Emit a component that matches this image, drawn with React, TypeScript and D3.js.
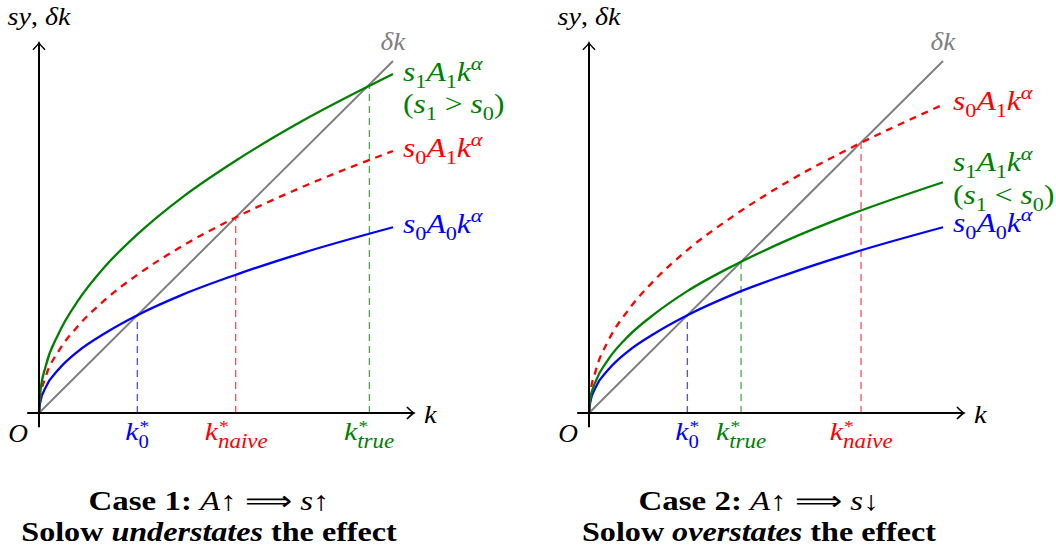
import * as d3 from 'd3'

// Values (units of k and of sy, δk)
const kGrid = [0, 0.02, 0.1, 0.3, 0.6, 1, 1.5, 2.2, 3, 4, 5.4]
const deltaLine = [0, 5.4]

// Case 1: A up => s up
const case1Base = [0, 0.17, 0.39, 0.67, 0.95, 1.22, 1.5, 1.82, 2.12, 2.45, 2.85]
const case1Naive = [0, 0.24, 0.55, 0.95, 1.34, 1.73, 2.12, 2.57, 3.0, 3.46, 4.02]
const case1True = [0, 0.32, 0.71, 1.22, 1.73, 2.24, 2.74, 3.32, 3.87, 4.47, 5.2]
const case1Stars = [1.5, 3.0, 5.04]

// Case 2: A up => s down
const case2Base = [0, 0.17, 0.39, 0.67, 0.95, 1.22, 1.5, 1.82, 2.12, 2.45, 2.85]
const case2Naive = [0, 0.29, 0.64, 1.12, 1.58, 2.04, 2.5, 3.02, 3.53, 4.07, 4.73]
const case2True = [0, 0.22, 0.48, 0.83, 1.18, 1.52, 1.87, 2.26, 2.64, 3.05, 3.54]
const case2Stars = [1.5, 2.32, 4.15]

const SERIF = '"Liberation Serif", serif'
const BLUE = '#0000ff'
const RED = '#ff0000'
const GREEN = '#008000'
const GRAY = '#808080'

const x = d3.scaleLinear().domain([0, 5.4]).range([0, 354])
const y = d3.scaleLinear().domain([0, 5.4]).range([0, -352])

const line = d3.line<number>()
  .x((_, i) => x(kGrid[i]))
  .y(d => y(d))
  .curve(d3.curveMonotoneX)

type Seg = { t: string; pos?: 'sub' | 'sup'; up?: boolean }

// tiny parser for strings like "s_0A_1k^α" or "(s_1 > s_0)"
function parse(src: string): Seg[] {
  const out: Seg[] = []
  let i = 0
  while (i < src.length) {
    const c = src[i]
    if (c === '_' || c === '^') {
      const pos = c === '_' ? 'sub' : 'sup'
      let t = src[i + 1]
      i += 2
      if (t === '{') {
        const end = src.indexOf('}', i)
        t = src.slice(i, end)
        i = end + 1
      }
      out.push({ t, pos, up: /^[0-9*]+$/.test(t) })
    } else {
      out.push({ t: c, up: /[0-9()<>, ]/.test(c) })
      i++
    }
  }
  return out
}

// math-ish text: italic letters, upright digits, sub/superscripts; widened with a horizontal scale
function MathText({ tx, ty, src, fill, size = 27, sx = 1.17, anchor = 'start' }:
  { tx: number; ty: number; src: string; fill: string; size?: number; sx?: number; anchor?: string }) {
  let cur = 0
  const segs = parse(src)
  return (
    <g transform={`translate(${tx},${ty}) scale(${sx},1)`}>
      <text x={0} y={0} fill={fill} fontSize={size} fontFamily={SERIF} textAnchor={anchor}>
        {segs.map((s, i) => {
          const target = s.pos === 'sub' ? Math.round(size * 0.26) : s.pos === 'sup' ? -Math.round(size * 0.4) : 0
          const dy = target - cur
          cur = target
          return (
            <tspan key={i} dy={dy} fontSize={s.pos ? 19 : size}
              fontStyle={s.up ? 'normal' : 'italic'}>{s.t}</tspan>
          )
        })}
      </text>
    </g>
  )
}

// k with a stacked * superscript and subscript
const subWidth: Record<string, number> = { '0': 9, naive: 43, true: 32 }

function KStar({ cx, ty, sub, fill }: { cx: number; ty: number; sub: string; fill: string }) {
  const kw = 11.5
  const x0 = -(kw + subWidth[sub]) / 2
  const up = sub === '0'
  return (
    <g transform={`translate(${cx},${ty}) scale(1.15,1)`} fill={fill} fontFamily={SERIF}>
      <text x={x0} y={0} fontSize={26} fontStyle="italic">k</text>
      <text x={x0 + kw + 1} y={-8} fontSize={17}>*</text>
      <text x={x0 + kw} y={8} fontSize={up ? 18 : 20} fontStyle={up ? 'normal' : 'italic'}>{sub}</text>
    </g>
  )
}

interface CurveDef { ys: number[]; color: string; dashed?: boolean; labels: string[]; dys: number[] }

interface PanelDef {
  ox: number
  curves: CurveDef[]
  stars: number[]
  starColors: string[]
  starSubs: string[]
  title: string
  verb: string
  arrow: string
}

const panels: PanelDef[] = [
  {
    ox: 39,
    curves: [
      { ys: case1Base, color: BLUE, labels: ['s_0A_0k^α'], dys: [6] },
      { ys: case1Naive, color: RED, dashed: true, labels: ['s_0A_1k^α'], dys: [6] },
      { ys: case1True, color: GREEN, labels: ['s_1A_1k^α', '(s_1 > s_0)'], dys: [7, 39] },
    ],
    stars: case1Stars,
    starColors: [BLUE, RED, GREEN],
    starSubs: ['0', 'naive', 'true'],
    title: 'Case 1:',
    verb: 'understates',
    arrow: '↑',
  },
  {
    ox: 589,
    curves: [
      { ys: case2Base, color: BLUE, labels: ['s_0A_0k^α'], dys: [5] },
      { ys: case2Naive, color: RED, dashed: true, labels: ['s_0A_1k^α'], dys: [5] },
      { ys: case2True, color: GREEN, labels: ['s_1A_1k^α', '(s_1 < s_0)'], dys: [-11, 22] },
    ],
    stars: case2Stars,
    starColors: [BLUE, GREEN, RED],
    starSubs: ['0', 'true', 'naive'],
    title: 'Case 2:',
    verb: 'overstates',
    arrow: '↓',
  },
]

function arrowHead(tx: number, ty: number, dir: 'right' | 'up') {
  if (dir === 'right') return `M${tx - 7},${ty - 6} Q${tx - 2},${ty - 1} ${tx},${ty} Q${tx - 2},${ty + 1} ${tx - 7},${ty + 6}`
  return `M${tx - 6},${ty + 7} Q${tx - 1},${ty + 2} ${tx},${ty} Q${tx + 1},${ty + 2} ${tx + 6},${ty + 7}`
}

function Panel({ p }: { p: PanelDef }) {
  const kMax = kGrid[kGrid.length - 1]
  const xEnd = x(5.72)
  const yTop = y(5.68)
  return (
    <g transform={`translate(${p.ox},413)`}>
      {/* drop lines to the steady states */}
      {p.stars.map((k, i) => (
        <line key={i} x1={x(k)} x2={x(k)} y1={0} y2={y(k)}
          stroke={p.starColors[i]} strokeOpacity={0.7} strokeWidth={1.3} strokeDasharray="7,5" />
      ))}
      {/* depreciation line */}
      <line x1={x(deltaLine[0])} y1={y(deltaLine[0])} x2={x(deltaLine[1])} y2={y(deltaLine[1])}
        stroke={GRAY} strokeWidth={2} />
      <MathText tx={x(deltaLine[1])} ty={y(deltaLine[1]) - 11} src="δk" fill={GRAY} anchor="middle" size={26} sx={1.05} />
      {p.curves.map((c, i) => (
        <g key={i}>
          <path d={line(c.ys) ?? ''} fill="none" stroke={c.color} strokeWidth={2.3}
            strokeDasharray={c.dashed ? '7,6' : undefined} />
          {c.labels.map((l, j) => (
            <MathText key={j} tx={Math.round(x(kMax)) + 10} ty={Math.round(y(c.ys[c.ys.length - 1])) + c.dys[j]}
              src={l} fill={c.color} />
          ))}
        </g>
      ))}
      {/* axes */}
      <g stroke="#000" strokeWidth={2} fill="none">
        <line x1={x(-0.18)} x2={xEnd} y1={0} y2={0} />
        <line x1={0} x2={0} y1={y(-0.22)} y2={yTop} />
        <path d={arrowHead(xEnd, 0, 'right')} strokeWidth={1.6} />
        <path d={arrowHead(0, yTop, 'up')} strokeWidth={1.6} />
      </g>
      <MathText tx={0} ty={Math.round(yTop) - 18} src="sy, δk" fill="#000" anchor="middle" size={26} sx={1.08} />
      <MathText tx={Math.round(xEnd) + 10} ty={10} src="k" fill="#000" size={26} sx={1.1} />
      <MathText tx={-11} ty={29} src="O" fill="#000" anchor="end" size={26} sx={1.05} />
      {p.stars.map((k, i) => (
        <KStar key={i} cx={Math.round(x(k))} ty={27} sub={p.starSubs[i]} fill={p.starColors[i]} />
      ))}
      {/* captions */}
      <g transform="translate(170,97) scale(1.22,1)">
        <text x={0} y={0} textAnchor="middle" fontFamily={SERIF} fontSize={27} fill="#000">
          <tspan fontWeight="bold">{p.title} </tspan>
          <tspan fontStyle="italic">A</tspan>
          <tspan>{'↑ ⟹  '}</tspan>
          <tspan fontStyle="italic">s</tspan>
          <tspan>{p.arrow}</tspan>
        </text>
      </g>
      <g transform="translate(170,128) scale(1.19,1)">
        <text x={0} y={0} textAnchor="middle" fontFamily={SERIF} fontSize={27} fill="#000" fontWeight="bold">
          <tspan>Solow </tspan>
          <tspan fontStyle="italic">{p.verb}</tspan>
          <tspan> the effect</tspan>
        </text>
      </g>
    </g>
  )
}

export default function App() {
  return (
    <svg width={1056} height={550} style={{ position: 'absolute', left: 0, top: 0, background: '#fff' }}>
      {panels.map((p, i) => <Panel key={i} p={p} />)}
    </svg>
  )
}
